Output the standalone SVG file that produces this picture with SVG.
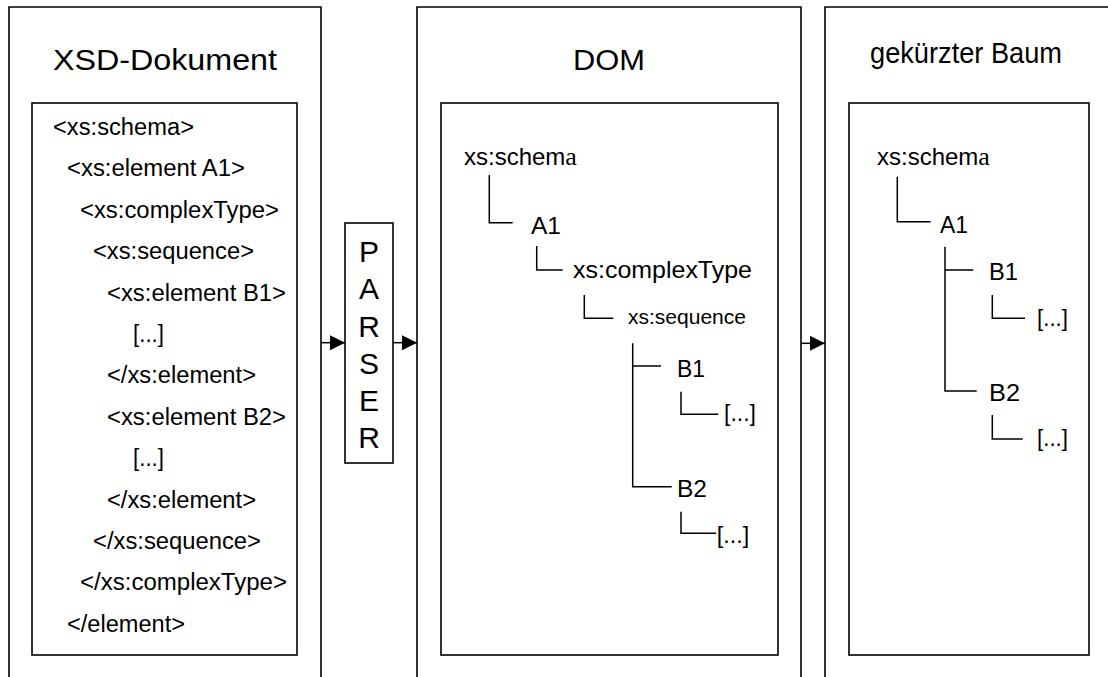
<svg xmlns="http://www.w3.org/2000/svg" width="1108" height="677" viewBox="0 0 1108 677">
  <defs>
    <style>
      .frame { fill: none; stroke: #000; stroke-width: 1.6; }
      .box { fill: #fff; stroke: #000; stroke-width: 1.6; }
      .tree { fill: none; stroke: #000; stroke-width: 1.5; }
      .conn { fill: none; stroke: #000; stroke-width: 1.5; }
      text { font-family: "Liberation Sans", Arial, sans-serif; fill: #000; }
      .title { font-size: 29px; text-anchor: middle; }
      .code { font-size: 23px; }
      .node { font-size: 24px; }
      .small { font-size: 20px; }
      .parser { font-size: 30px; text-anchor: middle; }
      .serif { font-family: "Liberation Serif", "Times New Roman", serif; }
    </style>
    <marker id="arrow" markerUnits="userSpaceOnUse" markerWidth="16" markerHeight="16" refX="15" refY="7.5" orient="auto">
      <path d="M0,0 L15,7.5 L0,15 Z" fill="#000"/>
    </marker>
  </defs>

  <!-- Panel 1: XSD document -->
  <g id="xsd-dokument">
    <path class="frame" d="M9,677 V7 H321 V677"/>
    <text class="title" x="165" y="70" textLength="224" lengthAdjust="spacingAndGlyphs">XSD-Dokument</text>
    <rect class="box" x="32" y="103" width="265" height="552"/>
    <g class="code">
      <text x="53" y="135" textLength="141" lengthAdjust="spacingAndGlyphs">&lt;xs:schema&gt;</text>
      <text x="67" y="176.4" textLength="178" lengthAdjust="spacingAndGlyphs">&lt;xs:element A1&gt;</text>
      <text x="80" y="217.8" textLength="199" lengthAdjust="spacingAndGlyphs">&lt;xs:complexType&gt;</text>
      <text x="93" y="259.2" textLength="161" lengthAdjust="spacingAndGlyphs">&lt;xs:sequence&gt;</text>
      <text x="107" y="300.6" textLength="179" lengthAdjust="spacingAndGlyphs">&lt;xs:element B1&gt;</text>
      <text x="133" y="342" textLength="31" lengthAdjust="spacingAndGlyphs">[...]</text>
      <text x="107" y="383.4" textLength="149" lengthAdjust="spacingAndGlyphs">&lt;/xs:element&gt;</text>
      <text x="107" y="424.8" textLength="179" lengthAdjust="spacingAndGlyphs">&lt;xs:element B2&gt;</text>
      <text x="133" y="466.2" textLength="31" lengthAdjust="spacingAndGlyphs">[...]</text>
      <text x="107" y="507.6" textLength="149" lengthAdjust="spacingAndGlyphs">&lt;/xs:element&gt;</text>
      <text x="93" y="549" textLength="168" lengthAdjust="spacingAndGlyphs">&lt;/xs:sequence&gt;</text>
      <text x="80" y="590.4" textLength="207" lengthAdjust="spacingAndGlyphs">&lt;/xs:complexType&gt;</text>
      <text x="67" y="631.8" textLength="118" lengthAdjust="spacingAndGlyphs">&lt;/element&gt;</text>
    </g>
  </g>

  <!-- Parser step -->
  <g id="parser">
    <rect class="box" x="345" y="223" width="48" height="240"/>
    <text class="parser" x="369" y="262">P</text>
    <text class="parser" x="369" y="299">A</text>
    <text class="parser" x="369" y="336.5">R</text>
    <text class="parser" x="369" y="373.5">S</text>
    <text class="parser" x="369" y="410.7">E</text>
    <text class="parser" x="369" y="447.5">R</text>
  </g>

  <!-- Panel 2: DOM -->
  <g id="dom">
    <path class="frame" d="M417,677 V7 H801 V677"/>
    <text class="title" x="609" y="70" textLength="72" lengthAdjust="spacingAndGlyphs">DOM</text>
    <rect class="box" x="441" y="103" width="337" height="552"/>
    <text class="node" x="464" y="165">xs:schem<tspan class="serif" font-size="26">a</tspan></text>
    <path class="tree" d="M489.3,175 V222.7 H512.7"/>
    <text class="node" x="531" y="234" textLength="30" lengthAdjust="spacingAndGlyphs">A1</text>
    <path class="tree" d="M536.7,246 V270 H562.7"/>
    <text class="node" x="573" y="278" textLength="179" lengthAdjust="spacingAndGlyphs">xs:complexType</text>
    <path class="tree" d="M584.3,295 V318.3 H613.3"/>
    <text class="small" x="628" y="324" textLength="118" lengthAdjust="spacingAndGlyphs">xs:sequence</text>
    <path class="tree" d="M632.7,343.3 V486.7 H671.7 M632.7,366 H661"/>
    <text class="node" x="677" y="377" textLength="28" lengthAdjust="spacingAndGlyphs">B1</text>
    <path class="tree" d="M681,391.7 V414.3 H718.3"/>
    <text class="node" x="724" y="421" textLength="32" lengthAdjust="spacingAndGlyphs">[...]</text>
    <text class="node" x="677" y="497" textLength="30" lengthAdjust="spacingAndGlyphs">B2</text>
    <path class="tree" d="M681,511.7 V533.3 H716"/>
    <text class="node" x="716.7" y="543" textLength="32.6" lengthAdjust="spacingAndGlyphs">[...]</text>
  </g>

  <!-- Panel 3: shortened tree -->
  <g id="gekuerzter-baum">
    <path class="frame" d="M825,677 V7 H1112"/>
    <text class="title" x="966" y="63" font-size="27" textLength="192" lengthAdjust="spacingAndGlyphs">gekürzter Baum</text>
    <rect class="box" x="849" y="103" width="240" height="552"/>
    <text class="node" x="877" y="165">xs:schem<tspan class="serif" font-size="26">a</tspan></text>
    <path class="tree" d="M897.3,176.7 V221.7 H930.7"/>
    <text class="node" x="940" y="233" textLength="28" lengthAdjust="spacingAndGlyphs">A1</text>
    <path class="tree" d="M945,246.7 V391 H976.7 M945,270 H973.3"/>
    <text class="node" x="989" y="280" textLength="29" lengthAdjust="spacingAndGlyphs">B1</text>
    <path class="tree" d="M992.3,295 V318.3 H1025"/>
    <text class="node" x="1037" y="326" textLength="31" lengthAdjust="spacingAndGlyphs">[...]</text>
    <text class="node" x="989" y="401" textLength="31" lengthAdjust="spacingAndGlyphs">B2</text>
    <path class="tree" d="M992.3,415 V439 H1022.7"/>
    <text class="node" x="1037" y="446" textLength="31" lengthAdjust="spacingAndGlyphs">[...]</text>
  </g>

  <!-- Flow arrows between the stages -->
  <g id="connectors">
    <path class="conn" d="M321,342.7 H345" marker-end="url(#arrow)"/>
    <path class="conn" d="M393,342.7 H417" marker-end="url(#arrow)"/>
    <path class="conn" d="M801,343.3 H825" marker-end="url(#arrow)"/>
  </g>
</svg>
